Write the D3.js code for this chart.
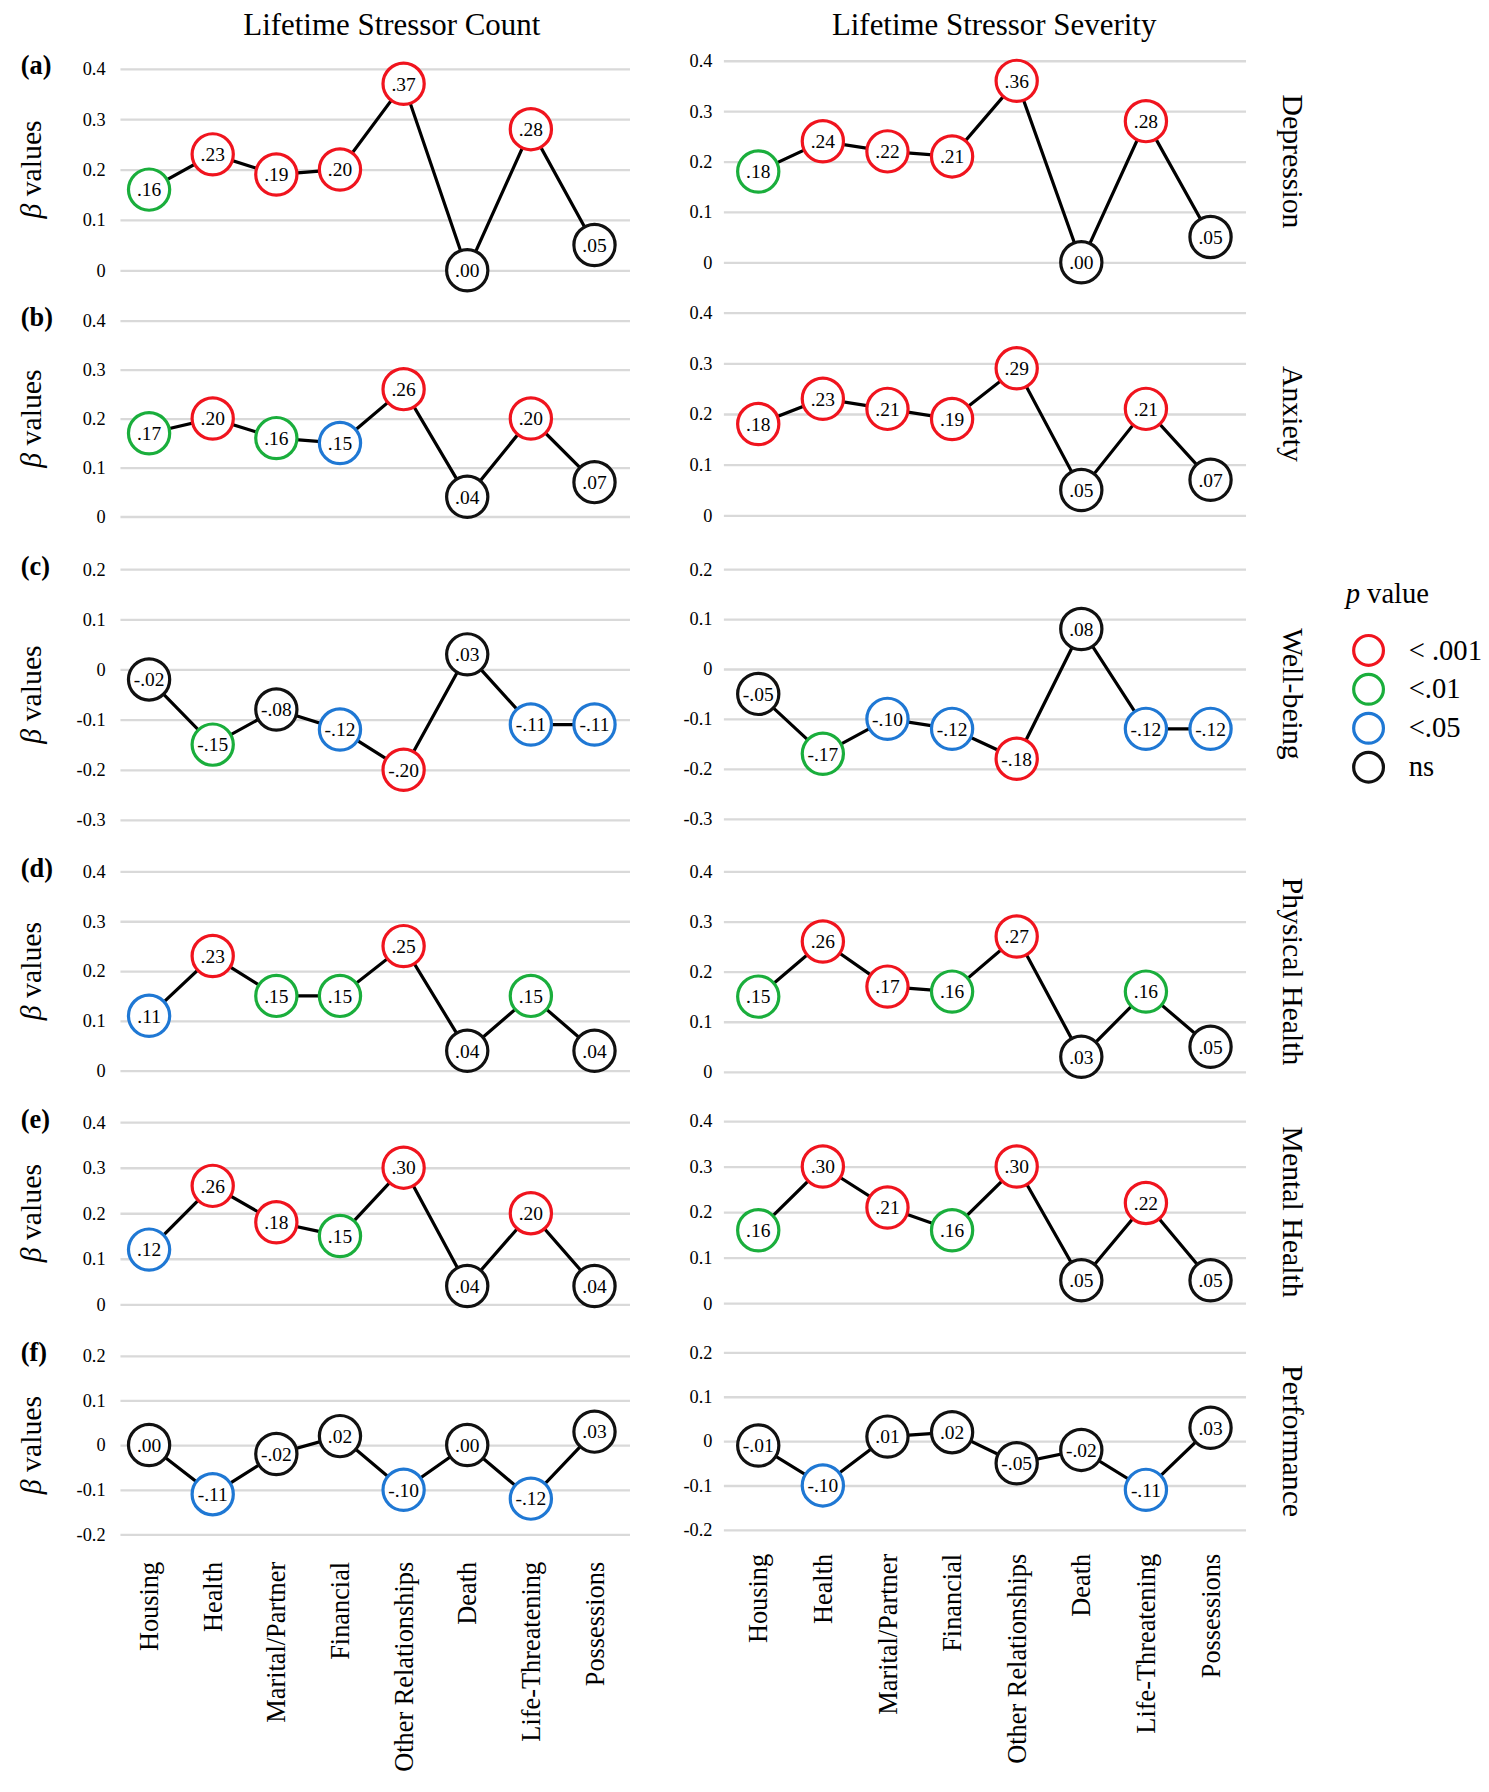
<!DOCTYPE html><html><head><meta charset="utf-8">
<script src="https://cdn.jsdelivr.net/npm/d3@7"></script>
<style>body{margin:0;background:#fff}svg{display:block}</style></head><body>
<svg id="c" width="1489" height="1792" viewBox="0 0 1300 1565"></svg>
<script>
const categories=["Housing","Health","Marital/Partner","Financial","Other Relationships","Death","Life-Threatening","Possessions"];
const outcomes=["Depression","Anxiety","Well-being","Physical Health","Mental Health","Performance"];
const letters=["(a)","(b)","(c)","(d)","(e)","(f)"];
const countValues=[
[.16,.23,.19,.20,.37,.00,.28,.05],
[.17,.20,.16,.15,.26,.04,.20,.07],
[-.02,-.15,-.08,-.12,-.20,.03,-.11,-.11],
[.11,.23,.15,.15,.25,.04,.15,.04],
[.12,.26,.18,.15,.30,.04,.20,.04],
[.00,-.11,-.02,.02,-.10,.00,-.12,.03]];
const countSig=["grrrrkrk","grgbrkrk","kgkbrkbb","brggrkgk","brrgrkrk","kbkkbkbk"];
const sevValues=[
[.18,.24,.22,.21,.36,.00,.28,.05],
[.18,.23,.21,.19,.29,.05,.21,.07],
[-.05,-.17,-.10,-.12,-.18,.08,-.12,-.12],
[.15,.26,.17,.16,.27,.03,.16,.05],
[.16,.30,.21,.16,.30,.05,.22,.05],
[-.01,-.10,.01,.02,-.05,-.02,-.11,.03]];
const sevSig=["grrrrkrk","rrrrrkrk","kgbbrkbb","grrgrkgk","grrgrkrk","kbkkkkbk"];
const domains=[[0,0.4],[0,0.4],[-0.3,0.2],[0,0.4],[0,0.4],[-0.2,0.2]];
const yTicks=[[0,.1,.2,.3,.4],[0,.1,.2,.3,.4],[-.3,-.2,-.1,0,.1,.2],[0,.1,.2,.3,.4],[0,.1,.2,.3,.4],[-.2,-.1,0,.1,.2]];
const legendKeys=["r","g","b","k"];
const legendLabels=["< .001","<.01","<.05","ns"];
const colors={r:"#f0141e",g:"#1aae3c",b:"#1f78d4",k:"#111"};

const leftRanges=[[236,60],[451,280],[716,497],[935,761],[1139,980],[1340,1184]];
const rightRanges=[[229,53],[450,273],[715,497],[936,761],[1138,979],[1336,1181]];
const svg=d3.select("#c");
const F="Liberation Serif, Times New Roman, serif";
const xL=d3.scalePoint().domain(categories).range([130,519]);
const xR=d3.scalePoint().domain(categories).range([662,1057]);
const fmt=v=>{const s=Math.abs(v).toFixed(2).replace(/^0/,"");return (v<0?"-":"")+s;};

svg.append("text").attr("x",342).attr("y",31).attr("text-anchor","middle").attr("font-family",F).attr("font-size",27).text("Lifetime Stressor Count");
svg.append("text").attr("x",868).attr("y",31).attr("text-anchor","middle").attr("font-family",F).attr("font-size",27).text("Lifetime Stressor Severity");

function panel(x,range,dom,ticks,vals,sig,gx0,gx1,tx){
  const y=d3.scaleLinear().domain(dom).range(range);
  const g=svg.append("g");
  const ax=d3.axisLeft(y).tickValues(ticks).tickSize(-(gx1-gx0)).tickFormat(d=>d===0?"0":d3.format(".1f")(d).replace("−","-"));
  const a=g.append("g").attr("transform",`translate(${gx0},0)`).call(ax).attr("font-family",F).attr("font-size",16);
  a.select(".domain").remove();
  a.selectAll("line").attr("stroke","#d9d9d9").attr("stroke-width",2);
  a.selectAll("text").attr("x",tx-gx0).attr("fill","#000");
  const line=d3.line().x((d,i)=>x(categories[i])).y(d=>y(d));
  g.append("path").attr("d",line(vals)).attr("fill","none").attr("stroke","#000").attr("stroke-width",2.8);
  const n=g.selectAll(".n").data(vals).enter().append("g").attr("transform",(d,i)=>`translate(${x(categories[i])},${y(d)})`);
  n.append("circle").attr("r",18).attr("fill","#fff").attr("stroke",(d,i)=>colors[sig[i]]).attr("stroke-width",2.8);
  n.append("text").attr("text-anchor","middle").attr("dy","0.35em").attr("font-family",F).attr("font-size",17).text(d=>fmt(d));
}
for(let r=0;r<6;r++){
  panel(xL,leftRanges[r],domains[r],yTicks[r],countValues[r],countSig[r],105,550,92);
  panel(xR,rightRanges[r],domains[r],yTicks[r],sevValues[r],sevSig[r],632,1088,622);
  svg.append("text").attr("x",18).attr("y",leftRanges[r][1]+5).attr("font-family",F).attr("font-size",23).attr("font-weight","bold").text(letters[r]);
  const cy=(leftRanges[r][0]+leftRanges[r][1])/2;
  const t=svg.append("text").attr("transform",`translate(36,${cy}) rotate(-90)`).attr("text-anchor","middle").attr("font-family",F).attr("font-size",26);
  t.append("tspan").attr("font-style","italic").text("β");t.append("tspan").text(" values");
  const ry=(rightRanges[r][0]+rightRanges[r][1])/2;
  svg.append("text").attr("transform",`translate(1120,${ry}) rotate(90)`).attr("text-anchor","middle").attr("font-family",F).attr("font-size",26).text(outcomes[r]);
}
categories.forEach(c=>{
  svg.append("text").attr("transform",`translate(${xL(c)+8},1364) rotate(-90)`).attr("text-anchor","end").attr("font-family",F).attr("font-size",23).text(c);
  svg.append("text").attr("transform",`translate(${xR(c)+8},1357) rotate(-90)`).attr("text-anchor","end").attr("font-family",F).attr("font-size",23).text(c);
});
const lt=svg.append("text").attr("x",1175).attr("y",527).attr("font-family",F).attr("font-size",25);
lt.append("tspan").attr("font-style","italic").text("p");lt.append("tspan").text(" value");
legendKeys.forEach((k,i)=>{
  const yy=568+i*34;
  svg.append("circle").attr("cx",1195).attr("cy",yy).attr("r",13).attr("fill","none").attr("stroke",colors[k]).attr("stroke-width",2.8);
  svg.append("text").attr("x",1230).attr("y",yy+8).attr("font-family",F).attr("font-size",25).text(legendLabels[i]);
});
</script></body></html>
